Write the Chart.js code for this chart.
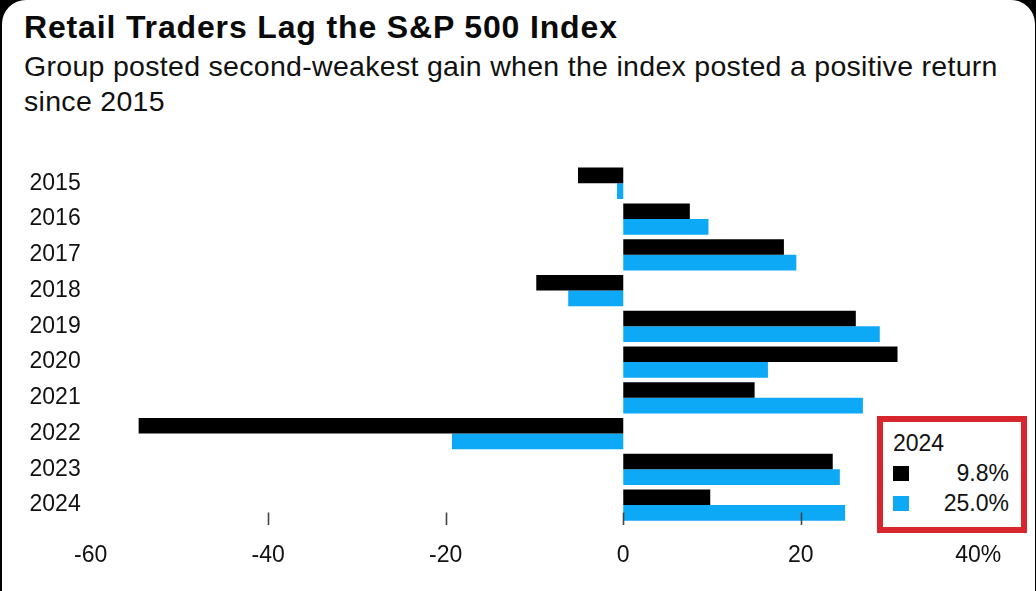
<!DOCTYPE html>
<html>
<head>
<meta charset="utf-8">
<script src="https://cdn.jsdelivr.net/npm/chart.js@4"></script>
<style>
  html, body { margin: 0; padding: 0; width: 1036px; height: 591px; overflow: hidden; background: #000; }
  #card { position: absolute; left: 2px; top: 0; width: 1033px; height: 640px; background: #fff; border-radius: 24px; }
  #title { position: absolute; left: 24px; top: 11px; font: bold 32px "Liberation Sans", Arial, sans-serif; line-height: 32px; letter-spacing: 0.85px; color: #0a0a0a; white-space: nowrap; }
  #subtitle { position: absolute; left: 24px; top: 49px; font: 28.5px "Liberation Sans", Arial, sans-serif; line-height: 35px; letter-spacing: 0.3px; color: #111; white-space: nowrap; }
  #chart { position: absolute; left: 0; top: 0; }
  #legend { position: absolute; left: 877px; top: 416px; width: 150px; height: 117px; box-sizing: border-box; border: 6px solid #d7262d; background: #fff; font: 23px "Liberation Sans", Arial, sans-serif; color: #111; }
  #legend span { position: absolute; line-height: 24px; white-space: nowrap; }
  #legend i { position: absolute; width: 16px; height: 15px; }
</style>
</head>
<body>
<div id="card"></div>
<div id="title">Retail Traders Lag the S&amp;P 500 Index</div>
<div id="subtitle">Group posted second-weakest gain when the index posted a positive return<br>since 2015</div>
<canvas id="chart" width="1036" height="591"></canvas>
<div id="legend"></div>
<script>
const categories = ['2015','2016','2017','2018','2019','2020','2021','2022','2023','2024'];
const retailTraders = [-5.1, 7.5, 18.1, -9.8, 26.2, 30.9, 14.8, -54.6, 23.6, 9.8];
const sp500 = [-0.7, 9.6, 19.5, -6.2, 28.9, 16.3, 27.0, -19.3, 24.4, 25.0];
const xTickValues = [-60, -40, -20, 0, 20, 40];
const seriesNames = ['Retail traders', 'S&P 500'];
const seriesColors = ['#000000', '#0da9f6'];

const FONT = '"Liberation Sans", Arial, sans-serif';

const tickMarks = {
  id: 'tickMarks',
  afterDatasetsDraw(chart) {
    const xs = chart.scales.x;
    const bottom = chart.chartArea.bottom;
    const ctx = chart.ctx;
    ctx.save();
    ctx.strokeStyle = '#444';
    ctx.lineWidth = 1.6;
    xs.ticks.forEach(t => {
      if (t.value === xs.min || t.value === xs.max) return;
      const px = Math.round(xs.getPixelForValue(t.value)) + 0.5;
      ctx.beginPath();
      ctx.moveTo(px, bottom - 10.5);
      ctx.lineTo(px, bottom + 2);
      ctx.stroke();
    });
    ctx.restore();
  }
};

new Chart(document.getElementById('chart'), {
  type: 'bar',
  data: {
    labels: categories,
    datasets: [
      { label: seriesNames[0], data: retailTraders, backgroundColor: seriesColors[0], borderWidth: 0, categoryPercentage: 0.876, barPercentage: 1.0 },
      { label: seriesNames[1], data: sp500, backgroundColor: seriesColors[1], borderWidth: 0, categoryPercentage: 0.876, barPercentage: 1.0 }
    ]
  },
  options: {
    indexAxis: 'y',
    responsive: false,
    animation: false,
    devicePixelRatio: 1,
    layout: { padding: { top: 165.4, right: 57.7, left: 0, bottom: 0 } },
    plugins: { legend: { display: false }, tooltip: { enabled: false }, title: { display: false } },
    scales: {
      x: {
        type: 'linear',
        min: xTickValues[0],
        max: xTickValues[xTickValues.length - 1],
        afterBuildTicks(scale) { scale.ticks = xTickValues.map(v => ({ value: v })); },
        ticks: {
          color: '#111',
          font: { family: FONT, size: 23 },
          padding: 19,
          maxRotation: 0,
          autoSkip: false,
          callback: (v) => v === xTickValues[xTickValues.length - 1] ? v + '%' : String(v)
        },
        grid: { display: false, drawTicks: false },
        border: { display: false },
        afterFit(scale) { scale.height = 68; }
      },
      y: {
        ticks: { color: '#111', font: { family: FONT, size: 23 }, padding: 10 },
        grid: { display: false, drawTicks: false },
        border: { display: false },
        afterFit(scale) { scale.width = 90.7; }
      }
    }
  },
  plugins: [tickMarks]
});

// Legend box (latest year values)
const legend = document.getElementById('legend');
const last = categories.length - 1;
const lt = document.createElement('span');
lt.textContent = categories[last];
lt.style.left = '10px'; lt.style.top = '9px';
legend.appendChild(lt);
[retailTraders, sp500].forEach((arr, i) => {
  const sq = document.createElement('i');
  sq.style.background = seriesColors[i];
  sq.style.left = '10px';
  sq.style.top = (44 + i * 30) + 'px';
  legend.appendChild(sq);
  const s = document.createElement('span');
  s.textContent = arr[last].toFixed(1) + '%';
  s.style.right = '12px';
  s.style.top = (39 + i * 30) + 'px';
  legend.appendChild(s);
});
</script>
</body>
</html>
